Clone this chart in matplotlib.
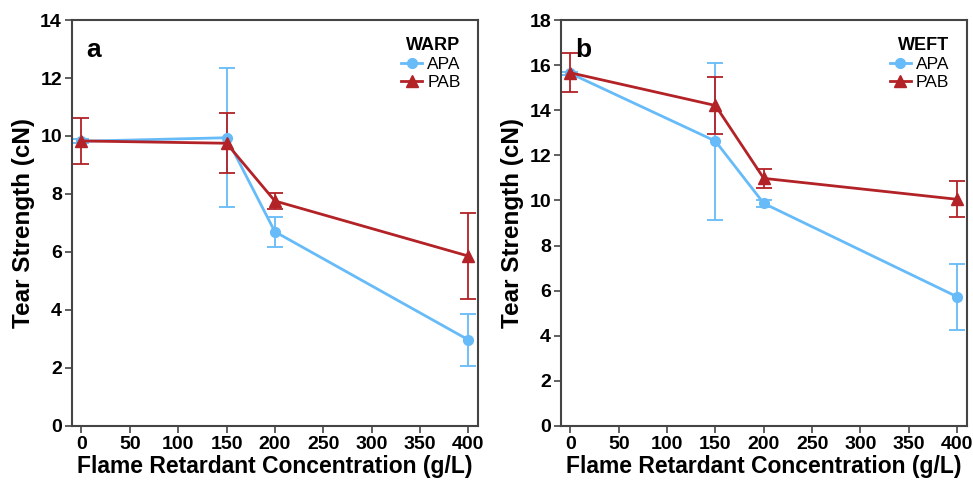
import matplotlib.pyplot as plt

plt.rcParams['font.family'] = ['Liberation Sans', 'DejaVu Sans']
plt.rcParams['font.weight'] = 'bold'

conc = [0, 150, 200, 400]
ticks_x = [0, 50, 100, 150, 200, 250, 300, 350, 400]

# warp direction
warp_apa = [9.82, 9.94, 6.70, 2.97]
warp_apa_err = [0.06, 2.39, 0.52, 0.90]
warp_pab = [9.83, 9.75, 7.76, 5.86]
warp_pab_err = [0.78, 1.03, 0.29, 1.47]

# weft direction
weft_apa = [15.63, 12.63, 9.87, 5.73]
weft_apa_err = [0.06, 3.48, 0.15, 1.46]
weft_pab = [15.66, 14.21, 10.98, 10.05]
weft_pab_err = [0.86, 1.26, 0.43, 0.79]

blue = '#66BBF8'
red = '#B22226'

fig = plt.figure(figsize=(9.73, 4.82), dpi=100)
ax1 = fig.add_axes([0.0737, 0.1162, 0.4176, 0.8423])
ax2 = fig.add_axes([0.5763, 0.1162, 0.4173, 0.8423])

panels = [
    (ax1, warp_apa, warp_apa_err, warp_pab, warp_pab_err, 'a', 'WARP', 14),
    (ax2, weft_apa, weft_apa_err, weft_pab, weft_pab_err, 'b', 'WEFT', 18),
]

for ax, apa, apa_e, pab, pab_e, tag, title, ymax in panels:
    ax.errorbar(conc, apa, yerr=apa_e, fmt='none', ecolor=blue,
                elinewidth=1.3, capsize=6, capthick=1.3)
    ax.errorbar(conc, pab, yerr=pab_e, fmt='none', ecolor=red,
                elinewidth=1.3, capsize=6, capthick=1.3)
    ax.plot(conc, apa, color=blue, marker='o', ms=7, lw=2, label='APA')
    ax.plot(conc, pab, color=red, marker='^', ms=8, lw=2, label='PAB')
    ax.set_xlim(-10, 410)
    ax.set_ylim(0, ymax)
    ax.set_xticks(ticks_x)
    ax.set_yticks(range(0, ymax + 1, 2))
    ax.tick_params(direction='out', length=5, width=1.2, labelsize=14,
                   color='#444444', pad=2)
    for lab in ax.get_xticklabels() + ax.get_yticklabels():
        lab.set_fontweight('bold')
    for sp in ax.spines.values():
        sp.set_color('#444444')
        sp.set_linewidth(1.5)
    ax.set_xlabel('Flame Retardant Concentration (g/L)', fontsize=16.5,
                  fontweight='bold', labelpad=2)
    ax.set_ylabel('Tear Strength (cN)', fontsize=17.5, fontweight='bold',
                  labelpad=4)
    ax.text(0.035, 0.955, tag, transform=ax.transAxes, fontsize=19,
            fontweight='bold', va='top', ha='left')
    leg = ax.legend(title=title, loc='upper right', frameon=False,
                    handlelength=1.2, handletextpad=0.3,
                    borderaxespad=0.6, labelspacing=0.15,
                    prop={'size': 12.5, 'weight': 'normal'})
    leg.get_title().set_fontweight('bold')
    leg.get_title().set_fontsize(13)
    leg._legend_box.align = 'right'

fig.savefig('out.png', dpi=100)
